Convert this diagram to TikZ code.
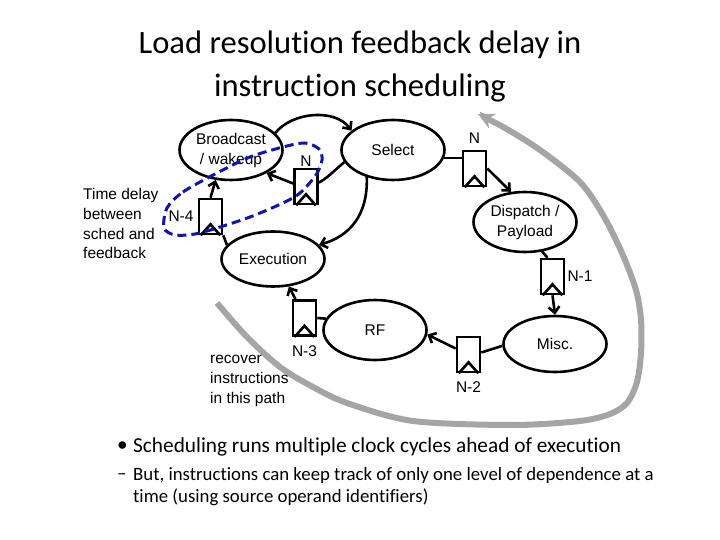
\documentclass[tikz,border=0pt]{standalone}
\usepackage{fontspec}
\setmainfont{Carlito}[Ligatures={NoCommon,NoRequired}]
\newfontfamily\diagfont{Liberation Sans}
\usetikzlibrary{shapes.geometric,arrows.meta}
\definecolor{loopblue}{RGB}{20,20,170}
\definecolor{pathgray}{RGB}{165,165,165}

\begin{document}
\begin{tikzpicture}[x=1pt,y=-1pt,
	stage/.style={draw,ellipse,line width=2.6pt,inner sep=0pt,minimum width=103pt,minimum height=60pt,align=center,font=\diagfont\fontsize{15.5}{20}\selectfont},
	latch/.style={draw,rectangle,line width=2.6pt,inner sep=0pt,minimum width=23pt,minimum height=35pt},
	every label/.style={font=\diagfont\fontsize{15.5}{18}\selectfont,inner sep=1pt},
	wire/.style={line width=2.6pt},
	arr/.style={wire,-{Straight Barb[length=6pt,width=11pt]}},
	note/.style={align=left,anchor=north west,inner sep=0pt,font=\diagfont\fontsize{15.5}{19.8}\selectfont},
	slide/.style={anchor=west,inner sep=0pt}]
		\useasboundingbox (0,0) rectangle (720,540);
		
		\node[align=center,font=\fontsize{32.6}{43}\selectfont] (title) at (360,66) {Load resolution feedback delay in\\instruction scheduling};
		
		% recovery path
		\draw[pathgray,line width=6pt,-{Stealth[length=16pt,width=16pt]}] plot[smooth,tension=0.5] coordinates {(217,303) (247,337) (280,367) (313,387) (347,403) (413,421) (513,425) (580,421) (610,414) (627,403) (637,382) (641,353) (641,320) (636,290) (622,253) (603,215) (580,182) (540,150) (505,128) (478,114)};
		
		% pipeline stages
		\node[stage] (bw) at (231,150) {Broadcast\\/ wakeup};
		\node[stage] (sel) at (393,150) {Select};
		\node[stage] (disp) at (525,222) {Dispatch /\\Payload};
		\node[stage,minimum height=55pt] (exe) at (273,259) {Execution};
		\node[stage] (rf) at (375,330) {RF};
		\node[stage,minimum height=56pt] (misc) at (555,344) {Misc.};
		
		% latches
		\node[latch, label = {[label distance=0pt]above:N}] (latchA) at (306,186.5) {};
		\node[latch, label = {[label distance=5pt]above:N}] (latchB) at (474.5,168.5) {};
		\node[latch, label = {[label distance=1pt]right:N-1}] (latchC) at (552.5,276.5) {};
		\node[latch, label = {[label distance=7pt]below:N-2}] (latchD) at (468.5,354.5) {};
		\node[latch, label = {[label distance=8pt]below:N-3}] (latchE) at (304.5,318) {};
		\node[latch, label = {[label distance=3pt]left:N-4}] (latchF) at (210.5,216.5) {};
		\foreach \l in {latchA,latchB,latchC,latchD,latchE,latchF}{
			\draw[wire] ([xshift=3pt]\l.south west) -- ([yshift=11pt]\l.south) -- ([xshift=-3pt]\l.south east);
		}
		
		\node[note] (delay) at (83,188) {Time delay\\between\\sched and\\feedback};
		\node[note] (recov) at (210,355) {recover\\instructions\\in this path};
		
		\draw[arr] (bw.21) .. controls (292,112) and (335,108) .. (sel.155);
		\draw[wire] (sel.194) .. controls (335,170) and (325,180) .. ([yshift=4pt]latchA.east);
		\draw[arr] ([yshift=3pt]latchA.west) -- (bw.327);
		\draw[arr] (sel.226) .. controls (368,215) and (350,236) .. (exe.17);
		\draw[wire] (sel.351) -- (sel.351 -| latchB.west);
		\draw[arr] (latchB.east) -- (disp.115);
		\draw[wire] (disp.300) -- ([xshift=-5pt]latchC.north);
		\draw[arr] (latchC.south) -- (misc.north);
		\draw[wire] (misc.182) -- ([yshift=2pt]latchD.east);
		\draw[arr] ([yshift=6pt]latchD.west) -- (rf.355);
		\draw[wire] (rf.167) -- (latchE.east);
		\draw[arr] ([xshift=-9pt]latchE.north) -- (exe.300);
		\draw[wire] (exe.163) -- (latchF.south east);
		\draw[arr] (latchF.north) -- (bw.243);
		
		% feedback loop
		\draw[loopblue,line width=3pt,dash pattern=on 9pt off 5pt] plot[smooth cycle,tension=0.5] coordinates {(167,208) (183,192) (217,173) (250,157) (283,147) (305,143) (319,149) (322,160) (316,175) (300,193) (283,203) (250,217) (217,228) (195,234) (175,235) (164,228)};
		
		\node[slide,font=\fontsize{21.3}{24}\selectfont] (b1) at (117,447) {•};
		\node[slide,font=\fontsize{21.3}{24}\selectfont] (t1) at (133,447) {Scheduling runs multiple clock cycles ahead of execution};
		\node[slide,font=\fontsize{18.8}{22}\selectfont] (b2) at (117,477) {–};
		\node[align=left,anchor=north west,inner sep=0pt,font=\fontsize{18.8}{22}\selectfont] (t2) at (133,467) {But, instructions can keep track of only one level of dependence at a\\time (using source operand identifiers)};
\end{tikzpicture}
\end{document}
